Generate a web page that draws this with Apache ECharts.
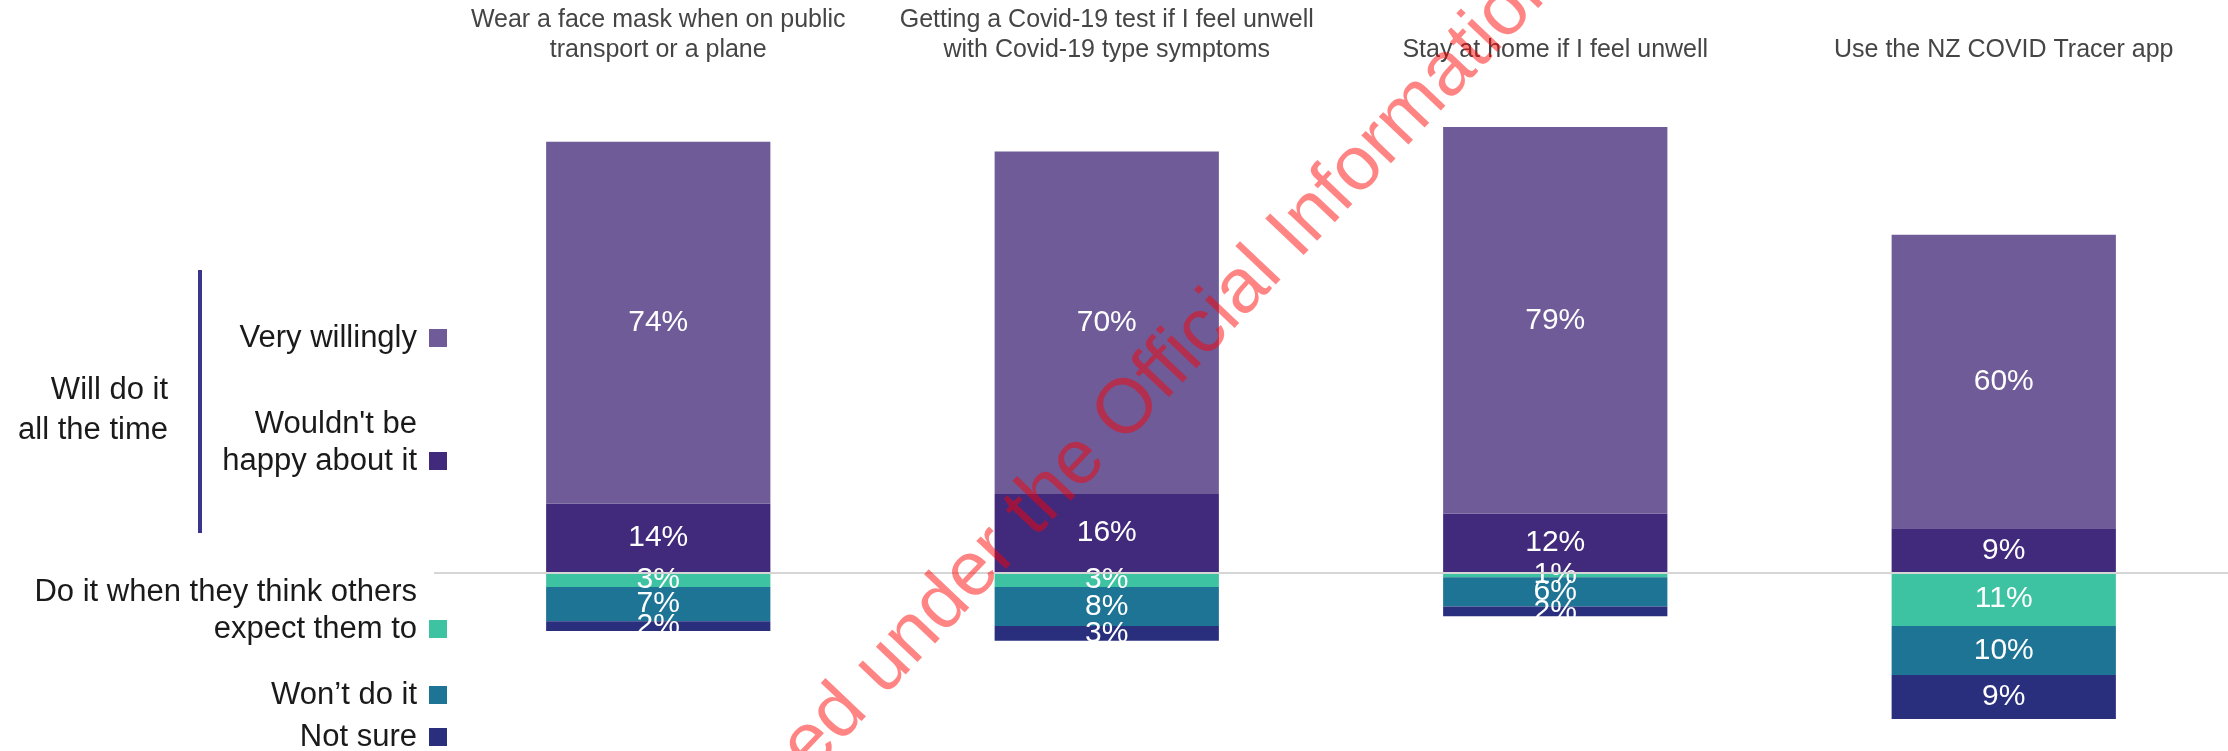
<!DOCTYPE html>
<html>
<head>
<meta charset="utf-8">
<title>Willingness to follow Covid-19 measures</title>
<script src="https://cdn.jsdelivr.net/npm/echarts@6/dist/echarts.min.js"></script>
<style>
  html, body { margin: 0; padding: 0; background: #ffffff; }
  #chart { width: 2228px; height: 751px; }
</style>
</head>
<body>
<div id="chart"></div>
<script>
// Behaviours asked about
const categories = [
  'Wear a face mask when on public\ntransport or a plane',
  'Getting a Covid-19 test if I feel unwell\nwith Covid-19 type symptoms',
  'Stay at home if I feel unwell',
  'Use the NZ COVID Tracer app'
];

// Response shares (%) — positive values stack above the baseline, negative below
const veryWillingly = [74, 70, 79, 60];
const wouldntBeHappy = [14, 16, 12, 9];
const othersExpect = [3, 3, 1, 11];
const wontDoIt = [7, 8, 6, 10];
const notSure = [2, 3, 2, 9];

const seriesNames = [
  'Very willingly',
  "Wouldn't be\nhappy about it",
  'Do it when they think others\nexpect them to',
  'Won\u2019t do it',
  'Not sure'
];
const seriesColors = ['#6e5b98', '#412a7c', '#3dc3a1', '#1d7494', '#2a2f7d'];

const FONT = '"Liberation Sans", Arial, Helvetica, sans-serif';

function barSeries(name, values, color, sign) {
  return {
    name: name,
    type: 'bar',
    stack: 'total',
    barWidth: '50%',
    data: values.map(v => sign * v),
    itemStyle: { color: color },
    label: {
      show: true,
      position: 'inside',
      color: '#ffffff',
      fontFamily: FONT,
      fontSize: 30,
      formatter: p => Math.abs(p.value) + '%'
    }
  };
}

const series = [
  barSeries(seriesNames[1], wouldntBeHappy, seriesColors[1], 1),
  barSeries(seriesNames[0], veryWillingly, seriesColors[0], 1),
  barSeries(seriesNames[2], othersExpect, seriesColors[2], -1),
  barSeries(seriesNames[3], wontDoIt, seriesColors[3], -1),
  barSeries(seriesNames[4], notSure, seriesColors[4], -1)
];

// baseline separating "will do it" from the other answers
series[series.length - 1].markLine = {
  silent: true,
  symbol: 'none',
  label: { show: false },
  lineStyle: { color: '#d6d6d6', width: 2, type: 'solid' },
  data: [{ yAxis: 0 }]
};

// Side legend: text right-aligned, swatch to its right, aligned with the last line
const legendRows = [
  { idx: 0, y: 338 },
  { idx: 1, y: 461 },
  { idx: 2, y: 629 },
  { idx: 3, y: 695 },
  { idx: 4, y: 737 }
];
const LEGEND_LH = 37;
const legendGraphics = [];
legendRows.forEach(r => {
  legendGraphics.push({
    type: 'text',
    x: 417,
    y: r.y + LEGEND_LH / 2,
    style: {
      text: seriesNames[r.idx],
      fontFamily: FONT,
      fontSize: 31,
      lineHeight: LEGEND_LH,
      fill: '#1a1a1a',
      align: 'right',
      verticalAlign: 'bottom',
      textAlign: 'right',
      textVerticalAlign: 'bottom'
    }
  });
  legendGraphics.push({
    type: 'rect',
    shape: { x: 429, y: r.y - 9, width: 18, height: 18 },
    style: { fill: seriesColors[r.idx] }
  });
});

const option = {
  animation: false,
  backgroundColor: '#ffffff',
  grid: { left: 434, top: 107.5, width: 1808, height: 636 },
  xAxis: {
    type: 'category',
    position: 'top',
    data: categories,
    axisLine: { show: false, onZero: false },
    axisTick: { show: false },
    splitLine: { show: false },
    axisLabel: {
      interval: 0,
      margin: 42,
      fontFamily: FONT,
      fontSize: 25,
      lineHeight: 30,
      color: '#454545'
    }
  },
  yAxis: {
    type: 'value',
    min: -35,
    max: 95,
    show: false
  },
  series: series,
  graphic: [
    {
      type: 'text',
      x: 168,
      y: 410,
      style: {
        text: 'Will do it\nall the time',
        fontFamily: FONT,
        fontSize: 31,
        lineHeight: 40,
        fill: '#1a1a1a',
        align: 'right',
        verticalAlign: 'middle',
        textAlign: 'right',
        textVerticalAlign: 'middle'
      }
    },
    {
      type: 'line',
      shape: { x1: 200, y1: 270, x2: 200, y2: 533 },
      style: { stroke: '#3a348a', lineWidth: 4 }
    },
    ...legendGraphics,
    {
      type: 'text',
      x: 1135,
      y: 402,
      rotation: 46.5 * Math.PI / 180,
      z: 100,
      silent: true,
      style: {
        text: 'Released under the Official Information Act',
        fontFamily: FONT,
        fontSize: 77,
        fill: 'rgba(255, 0, 0, 0.48)',
        align: 'center',
        verticalAlign: 'middle',
        textAlign: 'center',
        textVerticalAlign: 'middle'
      }
    }
  ]
};

const chart = echarts.init(document.getElementById('chart'), null, { renderer: 'canvas' });
chart.setOption(option);
</script>
</body>
</html>
